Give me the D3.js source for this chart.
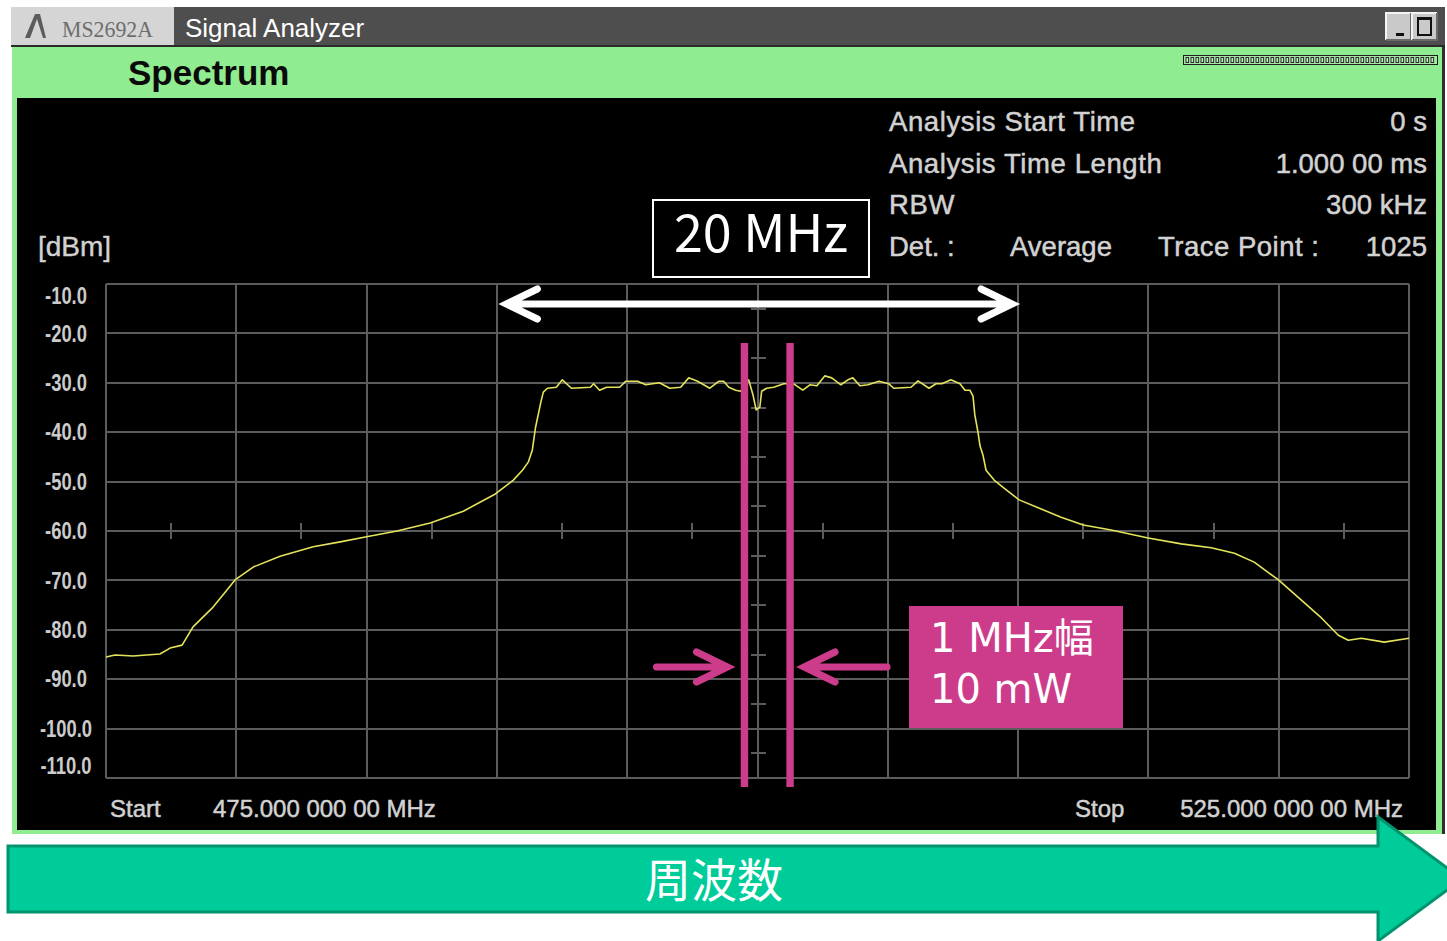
<!DOCTYPE html>
<html>
<head>
<meta charset="utf-8">
<script src="https://cdn.jsdelivr.net/npm/d3@7"></script>
<style>
  html, body { margin: 0; padding: 0; background: #ffffff; overflow: hidden; }
  svg { display: block; }
</style>
</head>
<body>
<svg id="chart" width="1447" height="941"></svg>
<script>
// Spectrum trace: frequency (MHz) and level (dBm)
const freqMHz = [
  475.00, 475.35, 476.04, 477.07, 477.46, 477.92, 478.34, 479.11, 479.65, 479.95,
  480.65, 481.68, 482.95, 483.99, 484.95, 486.17, 487.44, 488.71, 489.94, 490.63,
  490.98, 491.21, 491.36, 491.48, 491.67, 491.78, 491.94, 492.28, 492.51, 492.86,
  493.59, 493.71, 493.94, 494.21, 494.71, 494.94, 495.40, 495.71, 496.24, 496.63,
  497.05, 497.36, 497.70, 498.17, 498.51, 498.70, 498.90, 499.16, 499.36, 499.66,
  499.82, 499.95, 500.09, 500.16, 500.35, 500.62, 501.01, 501.39, 501.74, 502.01,
  502.28, 502.58, 502.85, 503.20, 503.47, 503.66, 503.93, 504.24, 504.66, 505.04,
  505.23, 505.89, 506.16, 506.58, 506.85, 507.08, 507.42, 507.77, 507.96, 508.15,
  508.27, 508.34, 508.46, 508.54, 508.65, 508.77, 509.08, 509.46, 510.04, 510.77,
  511.65, 512.50, 513.57, 514.99, 516.26, 517.41, 518.30, 519.06, 519.99, 520.87,
  521.64, 522.29, 522.67, 523.17, 524.05, 525.00
];
const levelDbm = [
  -85.5, -85.1, -85.3, -84.9, -83.7, -83.1, -79.4, -75.4, -71.9, -69.9,
  -67.3, -65.1, -63.2, -62.2, -61.2, -60.0, -58.4, -56.0, -52.5, -49.7,
  -47.7, -46.0, -43.6, -39.1, -34.3, -31.9, -31.1, -30.9, -29.4, -31.1,
  -30.9, -30.2, -31.5, -30.9, -30.9, -29.7, -29.7, -30.4, -30.0, -31.1,
  -30.9, -29.0, -29.7, -31.1, -29.7, -29.7, -30.9, -31.5, -31.7, -29.4,
  -32.3, -35.5, -34.9, -31.7, -31.1, -30.9, -30.2, -30.2, -31.5, -30.4,
  -30.6, -28.6, -29.0, -30.4, -29.4, -29.0, -30.6, -30.4, -29.7, -30.2,
  -31.1, -30.9, -29.6, -31.1, -30.2, -30.2, -29.4, -30.2, -31.5, -31.5,
  -32.7, -36.5, -40.0, -42.8, -44.6, -47.7, -49.7, -51.3, -53.7, -55.3,
  -57.2, -58.8, -59.8, -61.4, -62.6, -63.4, -64.5, -66.3, -69.9, -74.0,
  -77.6, -81.1, -82.1, -81.7, -82.5, -81.7
];

// Graticule
const freqGrid = [475, 480, 485, 490, 495, 500, 505, 510, 515, 520, 525];
const levelGrid = [-10, -20, -30, -40, -50, -60, -70, -80, -90, -100, -110];
const levelLabels = ["-10.0", "-20.0", "-30.0", "-40.0", "-50.0", "-60.0",
                     "-70.0", "-80.0", "-90.0", "-100.0", "-110.0"];

// Measurement settings panel
const infoNames = ["Analysis Start Time", "Analysis Time Length", "RBW"];
const infoValues = ["0 s", "1.000 00 ms", "300 kHz"];
const startLabel = "Start", startValue = "475.000 000 00 MHz";
const stopLabel = "Stop", stopValue = "525.000 000 00 MHz";

// Annotations
const spanBand = [490, 510];          // occupied bandwidth arrow (MHz)
const spanText = "20 MHz";
const sliceBand = [499.5, 501.25];    // highlighted 1 MHz slice (MHz)
const sliceText = ["1 MHz幅", "10 mW"];
const axisArrowText = "周波数";

const svg = d3.select("#chart");
const FONT = "'Liberation Sans', Arial, sans-serif";
const JP = "'Noto Sans CJK JP', 'Noto Sans', sans-serif";
const GREY_TXT = "#d2d2d2";
const PINK = "#cd3c8b";

// ---------- window chrome ----------
svg.append("rect").attr("x", 0).attr("y", 0).attr("width", 1447).attr("height", 941).attr("fill", "#ffffff");

// title bar
svg.append("rect").attr("x", 11).attr("y", 7).attr("width", 1434).attr("height", 40).attr("fill", "#4e4e4e");
svg.append("rect").attr("x", 11).attr("y", 7).attr("width", 163).attr("height", 39).attr("fill", "#d5d5d5");
svg.append("path")
  .attr("d", "M25,38 L35,14 L40,14 L46,38 L43,38 L37,19 L30,38 Z")
  .attr("fill", "#5c5c5c");
svg.append("text").attr("x", 62).attr("y", 37)
  .attr("font-family", "'Liberation Serif', 'Times New Roman', serif")
  .attr("font-size", 23).attr("fill", "#6e6e6e")
  .attr("textLength", 91).attr("lengthAdjust", "spacingAndGlyphs")
  .text("MS2692A");
svg.append("text").attr("x", 185).attr("y", 37)
  .attr("font-family", FONT).attr("font-size", 26).attr("fill", "#ffffff")
  .text("Signal Analyzer");
svg.append("rect").attr("x", 11).attr("y", 45).attr("width", 1434).attr("height", 2).attr("fill", "#2a2a2a");

// title bar buttons
function winButton(x0) {
  const g = svg.append("g");
  g.append("rect").attr("x", x0).attr("y", 13).attr("width", 25).attr("height", 27).attr("fill", "#c9c9c9");
  g.append("path").attr("d", `M${x0},40 L${x0},13 L${x0 + 25},13`).attr("fill", "none").attr("stroke", "#f4f4f4").attr("stroke-width", 2);
  g.append("path").attr("d", `M${x0},40 L${x0 + 25},40 L${x0 + 25},13`).attr("fill", "none").attr("stroke", "#6a6a6a").attr("stroke-width", 2);
  return g;
}
winButton(1386).append("rect").attr("x", 1396).attr("y", 33).attr("width", 8).attr("height", 3).attr("fill", "#111");
const maxBtn = winButton(1412);
maxBtn.append("rect").attr("x", 1418).attr("y", 18).attr("width", 13).attr("height", 17)
  .attr("fill", "none").attr("stroke", "#111").attr("stroke-width", 2);
maxBtn.append("rect").attr("x", 1418).attr("y", 17).attr("width", 13).attr("height", 3).attr("fill", "#111");

// green panel with black screen
svg.append("rect").attr("x", 12).attr("y", 47).attr("width", 1430).attr("height", 787).attr("fill", "#90ec90");
svg.append("rect").attr("x", 1442).attr("y", 47).attr("width", 3).attr("height", 787).attr("fill", "#2f2f2f");
svg.append("rect").attr("x", 17).attr("y", 98).attr("width", 1419).attr("height", 732).attr("fill", "#000000");

svg.append("text").attr("x", 128).attr("y", 85)
  .attr("font-family", FONT).attr("font-weight", "bold").attr("font-size", 35).attr("fill", "#0a0a0a")
  .text("Spectrum");

// busy indicator strip
const strip = svg.append("g");
strip.append("rect").attr("x", 1183.5).attr("y", 55.5).attr("width", 254).attr("height", 9)
  .attr("fill", "#a6e8a6").attr("stroke", "#1e1e1e").attr("stroke-width", 1);
strip.selectAll("rect.cell").data(d3.range(50)).join("rect").attr("class", "cell")
  .attr("x", i => 1186 + i * 5).attr("y", 57.5).attr("width", 2.6).attr("height", 5)
  .attr("fill", "#bff0bf").attr("stroke", "#2a2a2a").attr("stroke-width", 1);

// ---------- plot ----------
const x = d3.scaleLinear().domain([475, 525]).range([106, 1409]);
const y = d3.scaleLinear().domain([-110, -10]).range([778, 284]);

const grid = svg.append("g").attr("stroke", "#5c5c5c").attr("stroke-width", 2).attr("shape-rendering", "crispEdges");
grid.selectAll("line.v").data(freqGrid).join("line").attr("class", "v")
  .attr("x1", d => x(d)).attr("x2", d => x(d)).attr("y1", y(-10)).attr("y2", y(-110));
grid.selectAll("line.h").data(levelGrid).join("line").attr("class", "h")
  .attr("y1", d => y(d)).attr("y2", d => y(d)).attr("x1", x(475)).attr("x2", x(525));

// crosshair minor ticks on the centre lines
const freqMid = d3.pairs(freqGrid, (a, b) => (a + b) / 2);
const levelMid = d3.pairs(levelGrid, (a, b) => (a + b) / 2);
const fc = freqGrid[5], lc = levelGrid[5];
grid.selectAll("line.tx").data(freqMid).join("line").attr("class", "tx")
  .attr("x1", d => x(d)).attr("x2", d => x(d)).attr("y1", y(lc) - 8).attr("y2", y(lc) + 8);
grid.selectAll("line.ty").data(levelMid).join("line").attr("class", "ty")
  .attr("y1", d => y(d)).attr("y2", d => y(d)).attr("x1", x(fc) - 7).attr("x2", x(fc) + 8);

// y labels (the end labels sit inside the frame), condensed instrument style
const yLab = svg.append("g").selectAll("text").data(levelGrid).join("text")
  .attr("x", 66)
  .attr("y", (d, i) => y(d) + (i === 0 ? 12 : i === levelGrid.length - 1 ? -12.5 : 0))
  .attr("dy", "0.36em")
  .attr("text-anchor", "middle")
  .attr("font-family", FONT).attr("font-weight", "bold").attr("font-size", 23)
  .attr("fill", "#cbcbcb")
  .text((d, i) => levelLabels[i]);
yLab.each(function () {
  const w = this.getComputedTextLength();
  d3.select(this).attr("textLength", w * 0.8).attr("lengthAdjust", "spacingAndGlyphs");
});

svg.append("text").attr("x", 38).attr("y", 256)
  .attr("font-family", FONT).attr("font-size", 28).attr("fill", GREY_TXT)
  .attr("stroke", GREY_TXT).attr("stroke-width", 0.4).text("[dBm]");

// settings text
const info = svg.append("g").attr("font-family", FONT).attr("font-size", 27.5)
  .attr("fill", GREY_TXT).attr("stroke", GREY_TXT).attr("stroke-width", 0.5);
infoNames.forEach((n, i) => {
  info.append("text").attr("x", 889).attr("y", 131 + i * 41.7).attr("letter-spacing", 0.6).text(n);
  info.append("text").attr("x", 1427).attr("y", 131 + i * 41.7).attr("text-anchor", "end").text(infoValues[i]);
});
info.append("text").attr("x", 889).attr("y", 256).text("Det. :");
info.append("text").attr("x", 1010).attr("y", 256).text("Average");
info.append("text").attr("x", 1158).attr("y", 256).attr("letter-spacing", 0.5).text("Trace Point :");
info.append("text").attr("x", 1427).attr("y", 256).attr("text-anchor", "end").text("1025");

const foot = svg.append("g").attr("font-family", FONT).attr("font-size", 24)
  .attr("fill", GREY_TXT).attr("stroke", GREY_TXT).attr("stroke-width", 0.5);
foot.append("text").attr("x", 110).attr("y", 817).text(startLabel);
foot.append("text").attr("x", 213).attr("y", 817).text(startValue);
foot.append("text").attr("x", 1075).attr("y", 817).text(stopLabel);
foot.append("text").attr("x", 1403).attr("y", 817).attr("text-anchor", "end").text(stopValue);

// trace
const trace = freqMHz.map((f, i) => ({ f, v: levelDbm[i] }));
svg.append("path").datum(trace)
  .attr("d", d3.line().x(d => x(d.f)).y(d => y(d.v)))
  .attr("fill", "none").attr("stroke", "#e4e45c").attr("stroke-width", 1.6)
  .attr("stroke-linejoin", "round");

// ---------- annotations ----------
// 20 MHz span label and double arrow
svg.append("rect").attr("x", 653).attr("y", 200).attr("width", 216).attr("height", 77)
  .attr("fill", "#000").attr("stroke", "#ffffff").attr("stroke-width", 2);
svg.append("text").attr("x", 761).attr("y", 252).attr("text-anchor", "middle")
  .attr("font-family", JP).attr("font-size", 52).attr("fill", "#ffffff").text(spanText);

const ay = 304, ax0 = x(spanBand[0]) + 9.5, ax1 = x(spanBand[1]) - 6;
svg.append("path")
  .attr("d", `M${ax0},${ay} L${ax1},${ay} M${ax0 + 31},${ay - 15} L${ax0},${ay} L${ax0 + 31},${ay + 15} M${ax1 - 31},${ay - 15} L${ax1},${ay} L${ax1 - 31},${ay + 15}`)
  .attr("fill", "none").attr("stroke", "#ffffff").attr("stroke-width", 7)
  .attr("stroke-linecap", "round").attr("stroke-linejoin", "miter");

// 1 MHz slice markers
svg.selectAll("rect.slice").data(sliceBand).join("rect").attr("class", "slice")
  .attr("x", d => x(d) - 3.7).attr("y", 343).attr("width", 7.4).attr("height", 444).attr("fill", PINK);

const py = 667, pl = x(sliceBand[0]) - 17, pr = x(sliceBand[1]) + 14;
svg.append("path")
  .attr("d", `M${pl - 71},${py} L${pl},${py} M${pl - 31},${py - 15} L${pl},${py} L${pl - 31},${py + 15}` +
             ` M${pr + 83},${py} L${pr},${py} M${pr + 31},${py - 15} L${pr},${py} L${pr + 31},${py + 15}`)
  .attr("fill", "none").attr("stroke", PINK).attr("stroke-width", 7)
  .attr("stroke-linecap", "round");

svg.append("rect").attr("x", 909).attr("y", 606).attr("width", 214).attr("height", 122).attr("fill", PINK);
const sliceLabel = svg.append("text")
  .attr("font-family", "'DejaVu Sans', 'Noto Sans CJK JP', sans-serif")
  .attr("font-size", 40).attr("fill", "#ffffff");
sliceLabel.selectAll("tspan").data(sliceText).join("tspan")
  .attr("x", 930).attr("y", (d, i) => 652 + i * 51).text(d => d);

// frequency axis arrow
svg.append("path")
  .attr("d", "M8,846 L1378,846 L1378,817 L1462,879 L1378,941 L1378,912 L8,912 Z")
  .attr("fill", "#00cc99").attr("stroke", "#00946e").attr("stroke-width", 3).attr("stroke-linejoin", "miter");
svg.append("text").attr("x", 714).attr("y", 897).attr("text-anchor", "middle")
  .attr("font-family", JP).attr("font-size", 46).attr("fill", "#ffffff").text(axisArrowText);
</script>
</body>
</html>
